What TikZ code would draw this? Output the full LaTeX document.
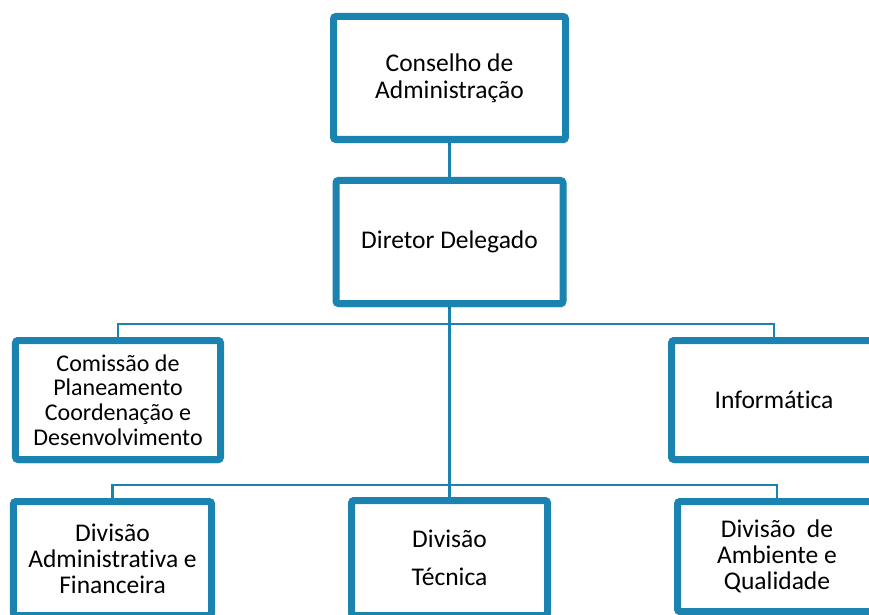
\documentclass[tikz,border=0pt]{standalone}
\usepackage{fontspec}
\setmainfont{Carlito}[Ligatures=NoCommon]
\usetikzlibrary{shadows.blur,backgrounds}
\definecolor{orgblue}{RGB}{27,131,175}
\tikzset{
  orgbox/.style={draw=orgblue, line width=7bp, fill=white, rounded corners=2.5bp,
    align=center, inner sep=0pt, font=\fontsize{25.5bp}{27bp}\selectfont,
    blur shadow={shadow xshift=1.5bp, shadow yshift=-3bp, shadow blur steps=6, shadow opacity=35}},
  link/.style={draw=orgblue, line width=2.8bp}
}
\begin{document}
\begin{tikzpicture}[x=1bp,y=-1bp]
\useasboundingbox (0,0) rectangle (869,615);
\clip (0,0) rectangle (869,615);
\node[orgbox, minimum width=232bp, minimum height=123bp] (cons) at (449.5,78) {Conselho de\\Administração};
\node[orgbox, minimum width=227bp, minimum height=123bp] (dir) at (449.5,242) {Diretor Delegado};
\node[orgbox, minimum width=205bp, minimum height=119bp, font=\fontsize{24bp}{24.8bp}\selectfont] (com) at (118,400) {Comissão de\\Planeamento\\Coordenação e\\Desenvolvimento};
\node[orgbox, minimum width=205bp, minimum height=119bp] (inf) at (774,400) {Informática};
\node[orgbox, minimum width=198bp, minimum height=114bp, font=\fontsize{25.5bp}{26bp}\selectfont] (adm) at (112.5,558.5) {Divisão\\Administrativa e\\Financeira};
\node[orgbox, minimum width=196bp, minimum height=115bp] (tec) at (449.5,558) {Divisão\\[11bp]Técnica};
\node[orgbox, minimum width=199bp, minimum height=110bp, font=\fontsize{25.5bp}{26bp}\selectfont] (amb) at (777,556.5) {Divisão\ \ de\\Ambiente e\\Qualidade};
\coordinate (h1) at (449.5,324);
\coordinate (h2) at (449.5,485);
\begin{scope}[on background layer]
\draw[link] (cons.south) -- (dir.north);
\draw[link] (dir.south) -- (h2);
\draw[link] (com.north) |- (h1) -| (inf.north);
\draw[link] (adm.north) |- (h2) -| (amb.north);
\draw[link] (h2) -- (tec.north);
\end{scope}
\end{tikzpicture}
\end{document}
